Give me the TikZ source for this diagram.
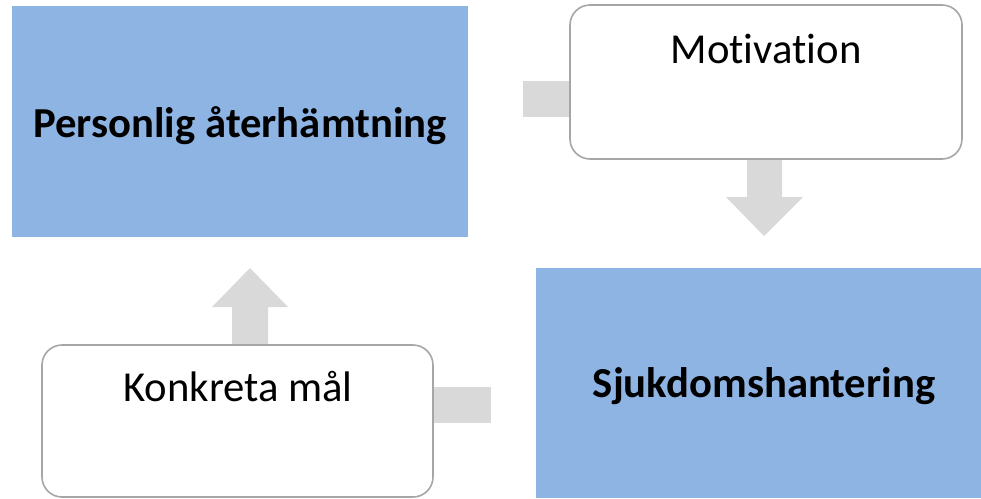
\documentclass[tikz,border=0pt]{standalone}
\usepackage{fontspec}
\setmainfont[Ligatures=NoCommon]{Carlito}
\definecolor{boxblue}{HTML}{8EB4E3}
\definecolor{arrowgray}{HTML}{D9D9D9}
\definecolor{edgegray}{HTML}{A6A6A6}
\begin{document}
\begin{tikzpicture}[x=1pt,y=-1pt,
  bluebox/.style={fill=boxblue,draw=none},
  roundbox/.style={fill=white,draw=edgegray,line width=1.6pt,rounded corners=20pt},
  blockarrow/.style={fill=arrowgray,draw=none},
  label/.style={anchor=base,inner sep=0pt,font=\fontsize{42.7}{50}\selectfont},
  boldlabel/.style={label,font=\fontsize{42.7}{50}\selectfont\bfseries}]
\useasboundingbox (0,0) rectangle (981,498);
% block arrows (drawn first, partly covered by the boxes)
\fill[blockarrow] (523,81) rectangle (575,117);
\fill[blockarrow] (747,150) -- (782,150) -- (782,197) -- (803,197) -- (764,236)
  -- (726,197) -- (747,197) -- cycle;
\fill[blockarrow] (232,350) -- (232,307) -- (212,307) -- (250,268) -- (288,307)
  -- (268,307) -- (268,350) -- cycle;
\fill[blockarrow] (425,387) rectangle (491,423);
% boxes
\fill[bluebox] (12,6) rectangle (468,237);
\fill[bluebox] (536,268) rectangle (981,498);
\draw[roundbox] (570,5) rectangle (962,159);
\draw[roundbox] (42,345) rectangle (433,497);
% labels
\node[boldlabel] (pa) at (240,137) {Personlig återhämtning};
\node[label] (mo) at (766,63) {Motivation};
\node[label] (km) at (238,401) {Konkreta mål};
\node[boldlabel] (sj) at (764,397) {Sjukdomshantering};
\end{tikzpicture}
\end{document}
